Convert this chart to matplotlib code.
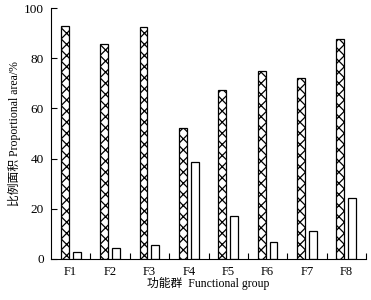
import matplotlib
matplotlib.use("Agg")
import matplotlib.pyplot as plt
import numpy as np

plt.rcParams['font.family'] = ['Liberation Serif', 'Noto Sans CJK SC']
plt.rcParams['hatch.linewidth'] = 0.9

categories = ['F1', 'F2', 'F3', 'F4', 'F5', 'F6', 'F7', 'F8']
hatched_vals = [93, 85.5, 92.5, 52, 67.5, 74.8, 72.3, 87.8]
white_vals = [2.7, 4.5, 5.7, 38.8, 17, 6.8, 11.2, 24.4]
yticks = [0, 20, 40, 60, 80, 100]

fig = plt.figure(figsize=(3.71, 3.0), dpi=100)
ax = fig.add_axes([0.1375, 0.1367, 0.849, 0.8366])

x = np.arange(1, len(categories) + 1)
w = 0.2
ax.bar(x - 0.15, hatched_vals, width=w, facecolor='white', edgecolor='black',
       hatch='xxx', linewidth=0.9)
ax.bar(x + 0.15, white_vals, width=w, facecolor='white', edgecolor='black',
       linewidth=0.9)

ax.set_xlim(0.5, 8.5)
ax.set_ylim(0, 100)
ax.set_yticks(yticks)
ax.set_xticks(x)
ax.set_xticklabels(categories, fontsize=9)
ax.set_xticks(np.arange(1.5, 9.0, 1.0), minor=True)
ax.tick_params(axis='x', which='major', length=0, pad=5)
ax.tick_params(axis='x', which='minor', direction='in', length=4, width=0.8)
ax.tick_params(axis='y', direction='in', length=4, width=0.8, labelsize=9.5, pad=5)
for s in ['top', 'right']:
    ax.spines[s].set_visible(False)
for s in ['left', 'bottom']:
    ax.spines[s].set_linewidth(0.8)

ax.set_xlabel('功能群  Functional group', fontsize=8.5, labelpad=-1)
ax.set_ylabel('比例面积 Proportional area/%', fontsize=8.5, labelpad=2)

fig.savefig('out.png', dpi=100)
